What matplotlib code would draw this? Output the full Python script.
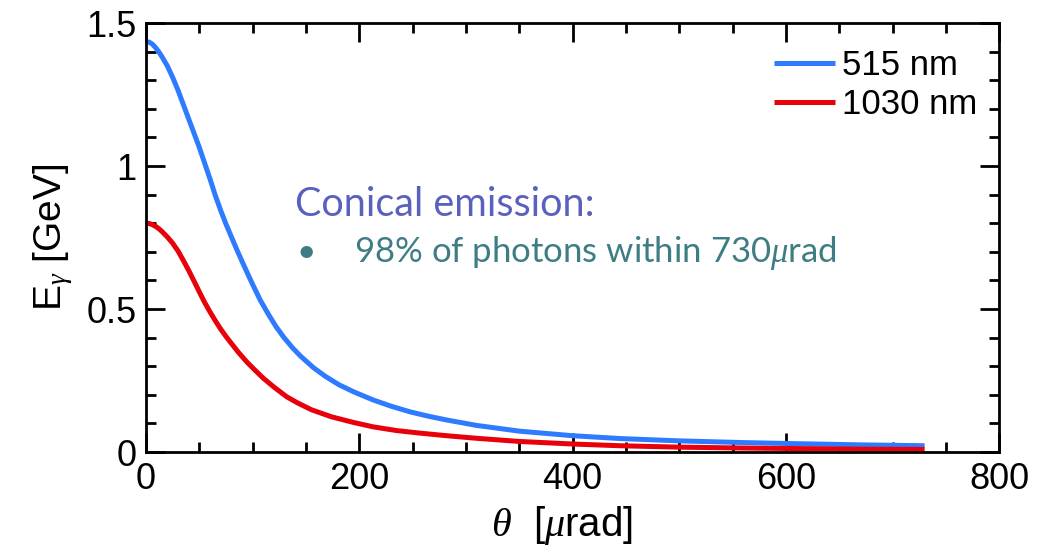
import matplotlib
matplotlib.use("Agg")
import matplotlib.pyplot as plt
from matplotlib.ticker import MultipleLocator

plt.rcParams['font.family'] = ['Liberation Sans', 'DejaVu Sans']
plt.rcParams['mathtext.fontset'] = 'custom'
plt.rcParams['mathtext.rm'] = 'Liberation Sans'
plt.rcParams['mathtext.it'] = 'Liberation Serif:italic'

# Photon energy vs emission angle for two laser wavelengths
theta_515 = [0, 3, 6, 9, 12, 15, 20, 25, 30, 35, 40, 45, 50, 55, 60, 65, 70,
             75, 80, 85, 90, 95, 100, 107, 115, 122, 129, 137, 145, 157, 168,
             181, 195, 213, 230, 248, 265, 282, 310, 350, 400, 445, 500,
             560, 613, 670, 730]
energy_515 = [1.435, 1.433, 1.426, 1.414, 1.399, 1.382, 1.35, 1.31, 1.265,
              1.215, 1.165, 1.115, 1.065, 1.01, 0.955, 0.897, 0.845, 0.797,
              0.753, 0.709, 0.667, 0.626, 0.586, 0.532, 0.48, 0.438, 0.402,
              0.366, 0.335, 0.295, 0.265, 0.235, 0.21, 0.182, 0.16, 0.14,
              0.125, 0.112, 0.093, 0.073, 0.057, 0.047, 0.039, 0.033, 0.029,
              0.025, 0.022]

theta_1030 = [0, 3, 6, 9, 12, 15, 20, 25, 30, 35, 40, 45, 50, 55, 60, 65, 70,
              75, 80, 87, 95, 102, 110, 120, 132, 142, 155, 174, 195, 213,
              235, 257, 282, 310, 350, 400, 444, 500, 560, 613, 670, 730]
energy_1030 = [0.80, 0.799, 0.795, 0.789, 0.781, 0.771, 0.752, 0.73, 0.703,
               0.67, 0.635, 0.598, 0.56, 0.523, 0.49, 0.459, 0.43, 0.404,
               0.38, 0.347, 0.313, 0.287, 0.258, 0.227, 0.193, 0.172, 0.148,
               0.123, 0.103, 0.088, 0.075, 0.066, 0.057, 0.048, 0.037, 0.028,
               0.022, 0.017, 0.014, 0.012, 0.010, 0.009]

labels = ['515 nm', '1030 nm']
colors = ['#2f7bff', '#e8000b']

fig = plt.figure(figsize=(10.48, 5.53), dpi=100)
ax = fig.add_axes([0.1393, 0.1826, 0.8142, 0.7758])

ax.plot(theta_515, energy_515, color=colors[0], lw=3.6, label=labels[0],
        solid_joinstyle='round', solid_capstyle='butt')
ax.plot(theta_1030, energy_1030, color=colors[1], lw=3.6, label=labels[1],
        solid_joinstyle='round', solid_capstyle='butt')

ax.set_xlim(0, 800)
ax.set_ylim(0, 1.5)
ax.xaxis.set_major_locator(MultipleLocator(200))
ax.xaxis.set_minor_locator(MultipleLocator(50))
ax.yaxis.set_major_locator(MultipleLocator(0.5))
ax.yaxis.set_minor_locator(MultipleLocator(0.1))
ax.set_yticks([0, 0.5, 1, 1.5])
ax.set_yticklabels(['0', '0.5', '1', '1.5'])

ax.tick_params(which='both', direction='in', top=True, right=True,
               width=2, labelsize=26, colors='black')
ax.tick_params(which='major', length=13.5, pad=7)
ax.tick_params(which='minor', length=7)
for s in ax.spines.values():
    s.set_linewidth(2)

ax.set_xlabel(r'$\theta$  [$\mu$rad]', fontsize=29)
ax.xaxis.set_label_coords(0.487, -0.122, transform=ax.transAxes)
ax.xaxis.label.set_va('top')
ax.set_ylabel(r'E$_{\gamma}$ [GeV]', fontsize=28, labelpad=8)

leg = ax.legend(loc='upper right', bbox_to_anchor=(0.974, 0.94),
                fontsize=25, frameon=False, borderpad=0, borderaxespad=0,
                handlelength=1.75, handletextpad=0.2, labelspacing=0.18)

fig.text(295 / 1048, 1 - 216 / 553, 'Conical emission:', va='baseline',
         fontsize=28.5, color='#5a60bd', family='Lato')
fig.text(296 / 1048, 1 - 262 / 553, '\u2022', va='baseline',
         fontsize=24, color='#3f7d84', family='Lato')
fig.text(354 / 1048, 1 - 262 / 553, '98% of photons within 730$\\mu$rad',
         va='baseline', fontsize=25, color='#3f7d84', family='Lato')

fig.savefig('out.png', dpi=100)
